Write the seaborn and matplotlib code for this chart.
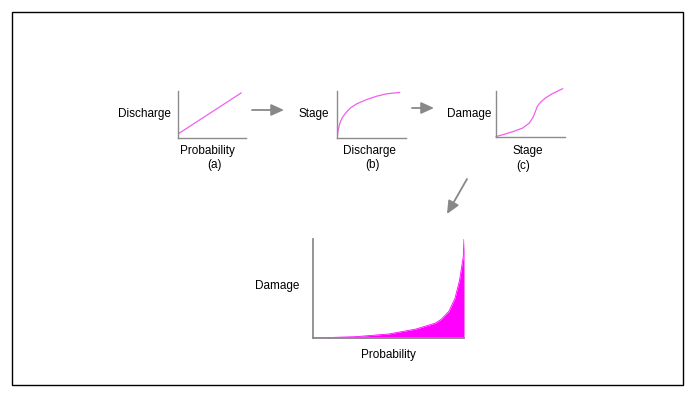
import matplotlib
matplotlib.use("Agg")
import matplotlib.pyplot as plt
import seaborn as sns
from matplotlib.patches import Rectangle

sns.set_theme(style="white")
plt.rcParams['font.family'] = ['Liberation Sans', 'DejaVu Sans']

# ---- data (normalised 0..1 in each panel) ----
# (a) Discharge vs Probability
prob_a = [0.0, 0.93]
disch_a = [0.085, 0.96]
# (b) Stage vs Discharge
disch_b = [0.0, 0.019, 0.043, 0.076, 0.124, 0.195, 0.29, 0.433, 0.576, 0.719, 0.91]
stage_b = [0.0, 0.18, 0.32, 0.43, 0.53, 0.64, 0.73, 0.82, 0.89, 0.94, 0.97]
# (c) Damage vs Stage
stage_c = [0.0, 0.1, 0.243, 0.386, 0.481, 0.538, 0.567, 0.6, 0.648, 0.719, 0.814, 0.91, 0.967]
damage_c = [0.01, 0.05, 0.115, 0.195, 0.30, 0.43, 0.54, 0.67, 0.76, 0.85, 0.94, 1.01, 1.05]
# Damage vs Probability (result)
prob_d = [0.0, 0.28, 0.5, 0.68, 0.81, 0.85, 0.9, 0.94, 0.97, 0.995, 1.0]
damage_d = [0.0, 0.013, 0.04, 0.09, 0.15, 0.19, 0.27, 0.40, 0.58, 0.82, 1.0]

W, H = 690, 398
fig = plt.figure(figsize=(W / 100, H / 100), dpi=100)
fig.patch.set_facecolor("white")

def px_axes(x0, y0, x1, y1):
    return fig.add_axes([x0 / W, 1 - y1 / H, (x1 - x0) / W, (y1 - y0) / H])

def style(ax, lw=1.0):
    ax.set_xlim(0, 1)
    ax.set_ylim(0, 1)
    for s in ["top", "right"]:
        ax.spines[s].set_visible(False)
    for s in ["left", "bottom"]:
        ax.spines[s].set_color("#8c8c8c")
        ax.spines[s].set_linewidth(lw)
    ax.set_xticks([])
    ax.set_yticks([])
    ax.set_xlabel("")
    ax.set_ylabel("")
    ax.patch.set_alpha(0)

line_col = "#f060f0"
fs = 8.5

ax_a = px_axes(178, 91, 246, 138)
sns.lineplot(x=prob_a, y=disch_a, ax=ax_a, color=line_col, linewidth=0.9)
style(ax_a)

ax_b = px_axes(337, 91, 406, 138)
sns.lineplot(x=disch_b, y=stage_b, ax=ax_b, color=line_col, linewidth=0.9)
style(ax_b)

ax_c = px_axes(496, 91, 565, 137)
sns.lineplot(x=stage_c, y=damage_c, ax=ax_c, color=line_col, linewidth=0.9)
style(ax_c)
for l in ax_c.lines:
    l.set_clip_on(False)

ax_d = px_axes(313, 239, 464, 338)
ax_d.fill_between(prob_d, damage_d, 0, color="#ff00ff", linewidth=0)
sns.lineplot(x=prob_d, y=damage_d, ax=ax_d, color="#ff00ff", linewidth=0.6)
style(ax_d, lw=1.3)

def ftext(x, y, s):
    fig.text(x / W, 1 - y / H, s, ha="center", va="center", fontsize=fs, color="black")

ftext(144, 114, "Discharge")
ftext(207.5, 151, "Probability")
ftext(214, 165, "(a)")
ftext(314, 114, "Stage")
ftext(369, 151, "Discharge")
ftext(373, 165, "(b)")
ftext(469, 114, "Damage")
ftext(527.7, 151, "Stage")
ftext(523.3, 166, "(c)")
ftext(277, 286.5, "Damage")
ftext(388, 355, "Probability")

def farrow(x0, y0, x1, y1):
    fig.add_artist(matplotlib.patches.FancyArrowPatch(
        (x0 / W, 1 - y0 / H), (x1 / W, 1 - y1 / H), transform=fig.transFigure,
        arrowstyle="-|>,head_length=0.55,head_width=0.25", mutation_scale=14,
        color="#888888", linewidth=1.3, shrinkA=0, shrinkB=0))

farrow(252, 110, 284, 110)
farrow(412, 108, 434, 108)
farrow(467, 179, 447, 214)

fig.add_artist(Rectangle((12 / W, 1 - 385 / H), (683 - 12) / W, (385 - 12) / H,
                         transform=fig.transFigure, fill=False, edgecolor="black", linewidth=1.0))

fig.savefig("out.png", dpi=100, facecolor="white")
